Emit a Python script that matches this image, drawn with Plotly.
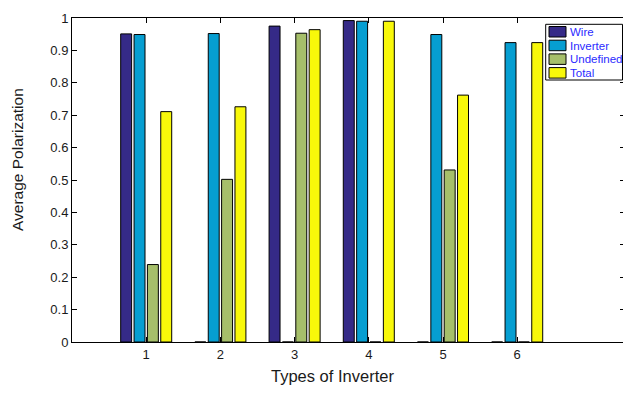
import plotly.graph_objects as go

categories = [1, 2, 3, 4, 5, 6]
series_names = ["Wire", "Inverter", "Undefined", "Total"]
wire = [0.951, 0.0, 0.975, 0.992, 0.0, 0.0]
inverter = [0.949, 0.952, 0.0, 0.990, 0.949, 0.924]
undefined = [0.239, 0.502, 0.953, 0.0, 0.531, 0.0]
total = [0.711, 0.726, 0.964, 0.990, 0.762, 0.924]
y_ticks = [0, 0.1, 0.2, 0.3, 0.4, 0.5, 0.6, 0.7, 0.8, 0.9, 1]
x_title = "Types of Inverter"
y_title = "Average Polarization"

colors = ["#352a87", "#069ed1", "#a6bf6a", "#f8f80a"]
values = [wire, inverter, undefined, total]

# figure is 2px wider than the window so the right axis line falls just off-screen
W, H = 625, 394
L, T, B, R = 72, 18, 52, 0
PW = W - L - R
PH = H - T - B
UNIT = 74.2  # pixels per category step


def px(x):
    return (x - L) / PW


def py(y):
    return (H - B - y) / PH


fig = go.Figure()
for name, vals, col in zip(series_names, values, colors):
    fig.add_trace(go.Bar(
        x=categories, y=vals, name=name,
        marker=dict(color=col, line=dict(color="black", width=1)),
        showlegend=False,
    ))

font_family = "Liberation Sans, Arial, sans-serif"

fig.update_layout(
    template="none",
    width=W, height=H,
    margin=dict(l=L, r=R, t=T, b=B, pad=0, autoexpand=False),
    paper_bgcolor="white", plot_bgcolor="white",
    barmode="group", bargap=0.28, bargroupgap=0.18,
    font=dict(family=font_family, color="#262626"),
    xaxis=dict(
        automargin=False,
        range=[0, PW / UNIT], tickvals=categories, ticktext=[str(c) for c in categories],
        ticks="inside", ticklen=5, tickcolor="black",
        showline=True, linecolor="black", linewidth=1, mirror="ticks",
        showgrid=False, zeroline=False, tickfont=dict(size=13, color="#1a1a1a"),
    ),
    yaxis=dict(
        automargin=False,
        range=[0, 1], tickvals=y_ticks, ticktext=[f"{v:g}" for v in y_ticks],
        ticks="inside", ticklen=5, tickcolor="black",
        showline=True, linecolor="black", linewidth=1, mirror="ticks",
        showgrid=False, zeroline=False, tickfont=dict(size=13, color="#1a1a1a"),
    ),
)

annotations = [
    dict(text=x_title, x=px(332.5), y=py(376), xref="paper", yref="paper",
         xanchor="center", yanchor="middle", showarrow=False,
         font=dict(size=16.5, color="#1a1a1a")),
    dict(text=y_title, x=px(18), y=py(160), xref="paper", yref="paper",
         xanchor="center", yanchor="middle", showarrow=False, textangle=-90,
         font=dict(size=15.5, color="#1a1a1a")),
]

# legend box (drawn manually to match the MATLAB style)
shapes = [dict(type="rect", xref="paper", yref="paper",
               x0=px(545.7), x1=px(622.5), y0=py(80), y1=py(24.3),
               line=dict(color="black", width=1), fillcolor="white", layer="above")]
for i, (name, col) in enumerate(zip(series_names, colors)):
    top = 26.5 + i * 13.7
    shapes.append(dict(type="rect", xref="paper", yref="paper",
                       x0=px(549), x1=px(566), y0=py(top + 10.5), y1=py(top),
                       line=dict(color="black", width=1), fillcolor=col, layer="above"))
    annotations.append(dict(text=name, x=px(567.5), y=py(top + 5.5), xref="paper", yref="paper",
                            xanchor="left", yanchor="middle", showarrow=False,
                            font=dict(size=11.5, color="#2b2bff")))

fig.update_layout(shapes=shapes, annotations=annotations)
fig.write_html(
    "out.html",
    config={"displayModeBar": False},
    post_script="document.body.style.margin='0';document.body.style.overflow='hidden';",
)
